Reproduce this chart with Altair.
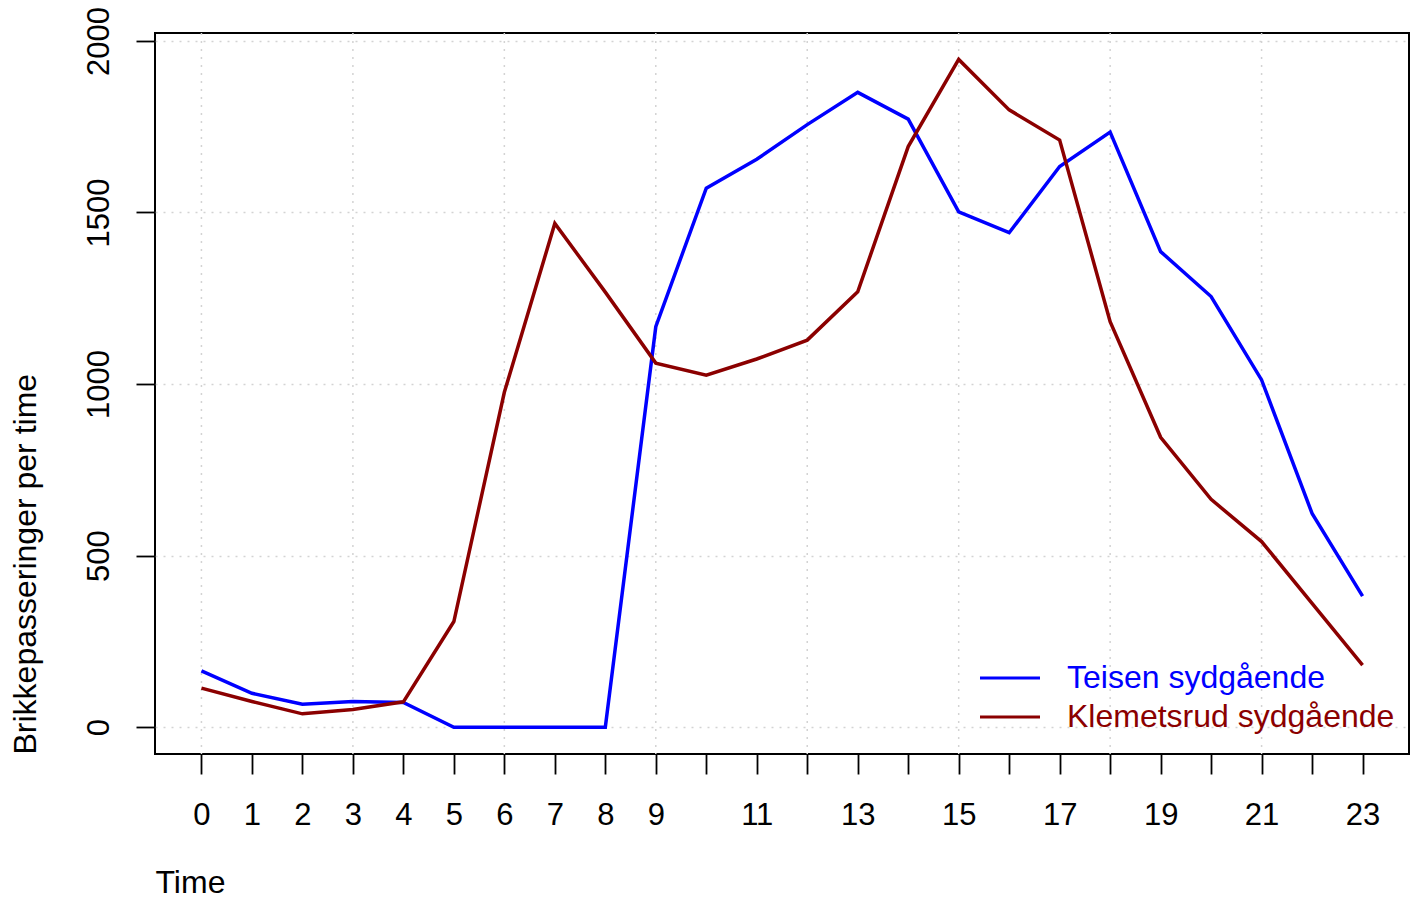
import altair as alt
import pandas as pd

# ---- data ----
hours = list(range(24))
teisen = [164, 99, 67, 75, 72, 0, 0, 0, 0, 1167, 1571, 1655, 1756, 1850, 1772,
          1502, 1441, 1634, 1734, 1386, 1255, 1012, 623, 382]
klemetsrud = [114, 75, 39, 52, 74, 308, 976, 1468, 1268, 1061, 1026, 1073, 1128,
              1269, 1692, 1946, 1799, 1711, 1182, 845, 664, 541, 361, 181]
series_names = ["Teisen sydgående", "Klemetsrud sydgående"]
series_colors = ["#0000FF", "#8B0000"]
x_ticks = list(range(24))
x_grid = [0, 3, 6, 9, 12, 15, 18, 21]
y_ticks = [0, 500, 1000, 1500, 2000]

df = pd.DataFrame({
    "Time": hours + hours,
    "value": teisen + klemetsrud,
    "series": [series_names[0]] * len(hours) + [series_names[1]] * len(hours),
})
grid_df = pd.DataFrame({"Time": x_grid})

FONT = "Liberation Sans"
FS = 31
TFS = 32

x_scale = alt.Scale(domain=[-0.92, 23.92], nice=False, zero=False)
y_scale = alt.Scale(domain=[-78, 2023], nice=False, zero=False)

x_axis = alt.Axis(
    values=x_ticks, title="Time", grid=False, domain=False,
    ticks=True, tickSize=20, tickColor="black", tickWidth=1.8,
    labelExpr="(datum.value <= 9 || datum.value % 2 == 1) ? datum.label : ''",
    labelFlush=False, labelOverlap=False, labelPadding=26,
    labelFont=FONT, labelFontSize=FS, labelColor="black",
    titleFont=FONT, titleFontSize=TFS, titleFontWeight="normal", titleColor="black",
    titleAnchor="start", titleAlign="left", titleBaseline="top", titlePadding=37,
)
y_axis = alt.Axis(
    values=y_ticks, format="d", title="Brikkepasseringer per time",
    grid=True, gridColor="#D3D3D3", gridDash=[2, 6], gridWidth=1.5,
    domain=False, ticks=True, tickSize=19, tickColor="black", tickWidth=1.8,
    labelAngle=270, labelAlign="center", labelBaseline="bottom", labelPadding=21,
    labelFlush=False, labelOverlap=False,
    labelFont=FONT, labelFontSize=FS, labelColor="black",
    titleFont=FONT, titleFontSize=TFS, titleFontWeight="normal", titleColor="black",
    titleAnchor="start", titleAlign="left", titleBaseline="bottom", titlePadding=41,
)

x_enc = alt.X("Time:Q", scale=x_scale, axis=x_axis)
y_enc = alt.Y("value:Q", scale=y_scale, axis=y_axis)

color_enc = alt.Color(
    "series:N",
    scale=alt.Scale(domain=series_names, range=series_colors),
    legend=alt.Legend(
        title=None, orient="none", legendX=819, legendY=629,
        symbolType="M-3,0L3,0", symbolSize=400, symbolStrokeWidth=3.2,
        symbolOffset=20, symbolFillColor="transparent",
        labelOffset=41, labelFont=FONT, labelFontSize=TFS, labelLimit=0,
        labelColor={"expr": "scale('color', datum.value)"},
        rowPadding=7, padding=0,
    ),
)

grid = alt.Chart(grid_df).mark_rule(
    color="#D3D3D3", strokeDash=[2, 6], strokeWidth=1.5
).encode(x=x_enc)

line_teisen = alt.Chart(df).transform_filter(
    alt.datum.series == series_names[0]
).mark_line(strokeWidth=3.5).encode(x=x_enc, y=y_enc, color=color_enc)

line_klem = alt.Chart(df).transform_filter(
    alt.datum.series == series_names[1]
).mark_line(strokeWidth=3.5).encode(x=x_enc, y=y_enc, color=color_enc)

chart = alt.layer(grid, line_teisen, line_klem).properties(
    width=1254, height=721,
    autosize=alt.AutoSizeParams(type="none"),
    padding={"left": 147, "top": 25, "right": 1, "bottom": 147},
).configure(background="white").configure_view(stroke="black", strokeWidth=2)

chart.save("out.html", embed_options={"renderer": "svg", "actions": False})
